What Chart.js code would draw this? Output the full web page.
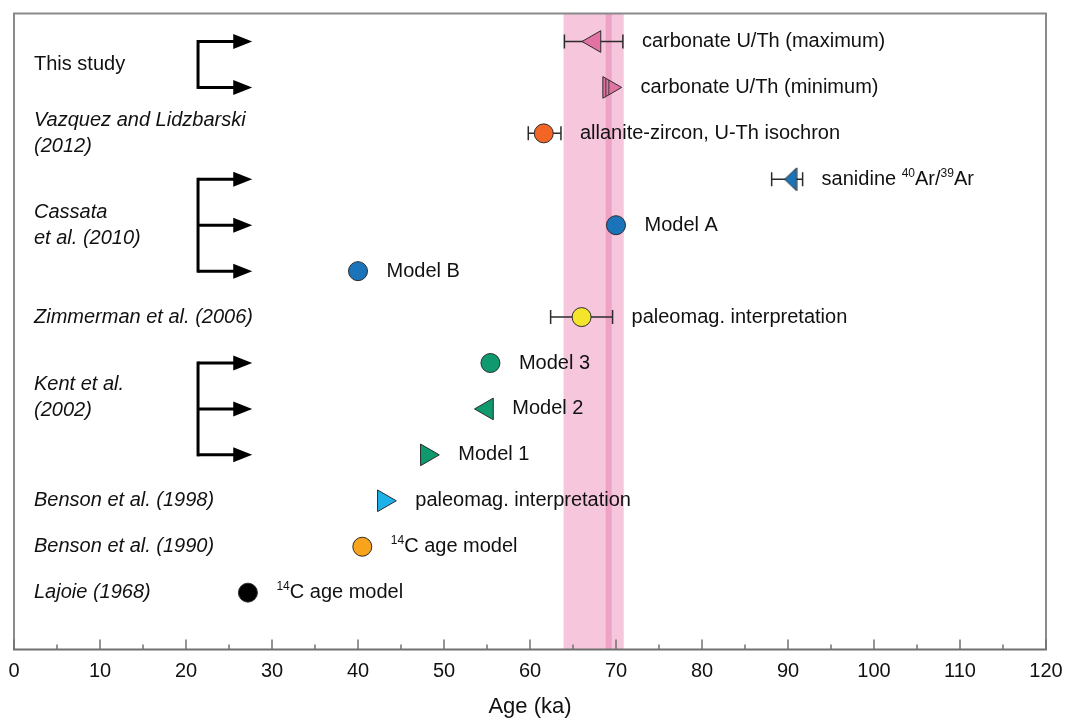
<!DOCTYPE html>
<html>
<head>
<meta charset="utf-8">
<title>Age comparison</title>
<script src="https://cdn.jsdelivr.net/npm/chart.js@4.4.0/dist/chart.umd.min.js"></script>
<style>
html, body { margin: 0; padding: 0; background: #ffffff; }
</style>
</head>
<body>
<canvas id="chartCanvas" width="1065" height="721"></canvas>
<script>
"use strict";

// one row per age estimate, top to bottom
const pointLabels = [
    'carbonate U/Th (maximum)',
    'carbonate U/Th (minimum)',
    'allanite-zircon, U-Th isochron',
    'sanidine ^{40}Ar/^{39}Ar',
    'Model A',
    'Model B',
    'paleomag. interpretation',
    'Model 3',
    'Model 2',
    'Model 1',
    'paleomag. interpretation',
    '^{14}C age model',
    '^{14}C age model'
];
const ages    = [67.5, 69.2, 61.6, 90.3, 70.0, 40.0, 66.0, 55.4, 55.0, 48.0, 43.0, 40.5, 27.2];
const errLow  = [64.0, null, 59.8, 88.1, null, null, 62.4, null, null, null, null, null, null];
const errHigh = [70.8, null, 63.6, 91.7, null, null, 69.6, null, null, null, null, null, null];
const markerShapes = ['left', 'right', 'circle', 'narrow', 'circle', 'circle', 'circle',
                      'circle', 'left', 'right', 'right', 'circle', 'circle'];
const markerColors = ['#e271a4', '#e271a4', '#f26524', '#1b74b9', '#1b74b9', '#1b74b9', '#f4e52c',
                      '#0e9a6e', '#0e9a6e', '#0e9a6e', '#1cb2e9', '#f8a31c', '#000000'];

// studies on the left, with the row they sit on
const sourceNames = [
    ['This study'],
    ['Vazquez and Lidzbarski', '(2012)'],
    ['Cassata', 'et al. (2010)'],
    ['Zimmerman et al. (2006)'],
    ['Kent et al.', '(2002)'],
    ['Benson et al. (1998)'],
    ['Benson et al. (1990)'],
    ['Lajoie (1968)']
];
const sourceRows = [0.5, 2, 4, 6, 7.76, 10, 11, 12];
const sourceItalic = [false, true, true, true, true, true, true, true];
const bracketGroups = [[0, 1], [3, 4, 5], [7, 8, 9]];

const uThBand = [63.9, 70.9];
const uThLine = [68.8, 69.5];

const FONT = "'Liberation Sans', Arial, Helvetica, sans-serif";

// narrow left-pointing triangle for the sanidine age
const narrowTri = document.createElement('canvas');
narrowTri.width = 14;
narrowTri.height = 25;
(function () {
    const c = narrowTri.getContext('2d');
    c.beginPath();
    c.moveTo(1, 12.5);
    c.lineTo(13, 1);
    c.lineTo(13, 24);
    c.closePath();
    c.fillStyle = '#1b74b9';
    c.fill();
    c.strokeStyle = '#2b2b2b';
    c.lineWidth = 1;
    c.stroke();
})();

function pointStyleFor(s) {
    if (s === 'circle') return 'circle';
    if (s === 'narrow') return narrowTri;
    return 'triangle';
}
function radiusFor(s) {
    return s === 'circle' ? 9.5 : 12.5;
}
function rotationFor(s) {
    if (s === 'left') return -90;
    if (s === 'right') return 90;
    return 0;
}
function rightExtent(s) {
    if (s === 'circle') return 9.5;
    if (s === 'left') return 6.3;
    if (s === 'narrow') return 6;
    return 12.5;
}

function drawRich(ctx, str, x, y, size) {
    const parts = str.split(/(\^\{[^}]*\})/).filter(p => p.length);
    parts.forEach(p => {
        if (p.indexOf('^{') === 0) {
            const t = p.slice(2, -1);
            ctx.font = Math.round(size * 0.62) + 'px ' + FONT;
            ctx.fillText(t, x, y - size * 0.3);
            x += ctx.measureText(t).width;
        } else {
            ctx.font = size + 'px ' + FONT;
            ctx.fillText(p, x, y);
            x += ctx.measureText(p).width;
        }
    });
}

const decorations = {
    id: 'decorations',
    beforeDatasetsDraw(chart) {
        const ctx = chart.ctx;
        const xs = chart.scales.x;
        const ys = chart.scales.y;
        const area = chart.chartArea;
        ctx.save();
        // U/Th band and its central line
        ctx.fillStyle = '#f6c6dc';
        ctx.fillRect(xs.getPixelForValue(uThBand[0]), area.top,
            xs.getPixelForValue(uThBand[1]) - xs.getPixelForValue(uThBand[0]), area.bottom - area.top);
        ctx.fillStyle = '#eda2c6';
        ctx.fillRect(xs.getPixelForValue(uThLine[0]), area.top,
            xs.getPixelForValue(uThLine[1]) - xs.getPixelForValue(uThLine[0]), area.bottom - area.top);

        // error bars
        ctx.strokeStyle = '#2b2b2b';
        ctx.lineWidth = 1.5;
        ages.forEach((a, i) => {
            if (errLow[i] === null) return;
            const y = ys.getPixelForValue(i);
            const x0 = xs.getPixelForValue(errLow[i]);
            const x1 = xs.getPixelForValue(errHigh[i]);
            ctx.beginPath();
            ctx.moveTo(x0, y); ctx.lineTo(x1, y);
            ctx.moveTo(x0, y - 7); ctx.lineTo(x0, y + 7);
            ctx.moveTo(x1, y - 7); ctx.lineTo(x1, y + 7);
            ctx.stroke();
        });
        ctx.restore();
    },
    afterDatasetsDraw(chart) {
        const ctx = chart.ctx;
        const xs = chart.scales.x;
        const ys = chart.scales.y;
        const area = chart.chartArea;
        ctx.save();

        // stacked look of the minimum-age triangle
        const mi = 1;
        const mx = xs.getPixelForValue(ages[mi]);
        const my = ys.getPixelForValue(mi);
        const r = radiusFor(markerShapes[mi]);
        const back = mx - r / 2;
        ctx.strokeStyle = '#3a3a3a';
        ctx.lineWidth = 1;
        [3, 6].forEach(d => {
            const h = (r * Math.sqrt(3) / 2) * (1 - d / (1.5 * r));
            ctx.beginPath();
            ctx.moveTo(back + d, my - h);
            ctx.lineTo(back + d, my + h);
            ctx.stroke();
        });

        // labels next to the markers
        ctx.fillStyle = '#111111';
        ctx.textBaseline = 'middle';
        ctx.textAlign = 'left';
        pointLabels.forEach((lab, i) => {
            const px = xs.getPixelForValue(ages[i]) + rightExtent(markerShapes[i]);
            const ex = errHigh[i] === null ? px : Math.max(px, xs.getPixelForValue(errHigh[i]));
            drawRich(ctx, lab, ex + 19, ys.getPixelForValue(i), 20);
        });

        // study names
        sourceNames.forEach((lines, k) => {
            ctx.font = (sourceItalic[k] ? 'italic ' : '') + '20px ' + FONT;
            const yc = ys.getPixelForValue(sourceRows[k]);
            lines.forEach((ln, j) => {
                const y = yc + (j - (lines.length - 1) / 2) * 26;
                ctx.fillText(ln, area.left + 20, y);
            });
        });

        // bracket arrows
        const bx = xs.getPixelForValue(21.4);
        const tip = xs.getPixelForValue(27.7);
        ctx.strokeStyle = '#000000';
        ctx.fillStyle = '#000000';
        ctx.lineWidth = 3;
        bracketGroups.forEach(g => {
            const y0 = ys.getPixelForValue(g[0]);
            const y1 = ys.getPixelForValue(g[g.length - 1]);
            ctx.beginPath();
            ctx.moveTo(bx, y0 - 1.5);
            ctx.lineTo(bx, y1 + 1.5);
            ctx.stroke();
            g.forEach(row => {
                const y = ys.getPixelForValue(row);
                ctx.beginPath();
                ctx.moveTo(bx, y);
                ctx.lineTo(tip - 14, y);
                ctx.stroke();
                ctx.beginPath();
                ctx.moveTo(tip, y);
                ctx.lineTo(tip - 19, y - 7.5);
                ctx.lineTo(tip - 19, y + 7.5);
                ctx.closePath();
                ctx.fill();
            });
        });

        // frame and inward ticks
        ctx.strokeStyle = '#8a8a8a';
        ctx.lineWidth = 2;
        ctx.beginPath();
        ctx.moveTo(area.left, area.bottom);
        ctx.lineTo(area.left, area.top);
        ctx.lineTo(area.right, area.top);
        ctx.lineTo(area.right, area.bottom);
        ctx.stroke();
        ctx.strokeStyle = '#707070';
        ctx.beginPath();
        ctx.moveTo(area.left - 1, area.bottom);
        ctx.lineTo(area.right + 1, area.bottom);
        ctx.stroke();
        ctx.lineWidth = 1.5;
        xs.ticks.forEach(t => {
            const x = xs.getPixelForValue(t.value);
            const len = t.value % 10 === 0 ? 10 : 5;
            ctx.beginPath();
            ctx.moveTo(x, area.bottom);
            ctx.lineTo(x, area.bottom - len);
            ctx.stroke();
        });
        ctx.restore();
    }
};

const ctx = document.getElementById('chartCanvas');

const config = {
    type: 'scatter',
    data: {
        datasets: [{
            label: 'ages',
            data: ages.map((a, i) => ({ x: a, y: i })),
            pointStyle: markerShapes.map(pointStyleFor),
            pointRadius: markerShapes.map(radiusFor),
            pointHoverRadius: markerShapes.map(radiusFor),
            pointRotation: markerShapes.map(rotationFor),
            backgroundColor: markerColors,
            borderColor: '#2b2b2b',
            borderWidth: 1
        }]
    },
    options: {
        responsive: false,
        animation: false,
        devicePixelRatio: 1,
        layout: { padding: { left: 14, right: 19, top: 12, bottom: 1 } },
        plugins: {
            legend: { display: false },
            tooltip: { enabled: false }
        },
        scales: {
            x: {
                type: 'linear',
                min: 0,
                max: 120,
                grid: { display: false, drawTicks: false },
                border: { display: false },
                ticks: {
                    stepSize: 5,
                    autoSkip: false,
                    maxRotation: 0,
                    padding: 10,
                    color: '#111111',
                    font: { family: FONT, size: 20, lineHeight: 1.2 },
                    callback: v => (v % 10 === 0 ? String(v) : '')
                },
                title: {
                    display: true,
                    text: 'Age (ka)',
                    color: '#111111',
                    font: { family: FONT, size: 22 },
                    padding: { top: 0, bottom: 0 }
                },
                // the edge labels may hang over the frame, as in the figure
                afterFit: scale => {
                    scale.paddingLeft = 0;
                    scale.paddingRight = 0;
                }
            },
            y: {
                type: 'linear',
                display: false,
                reverse: true,
                min: -0.61,
                max: 13.24
            }
        }
    },
    plugins: [decorations]
};

new Chart(ctx, config);
</script>
</body>
</html>
